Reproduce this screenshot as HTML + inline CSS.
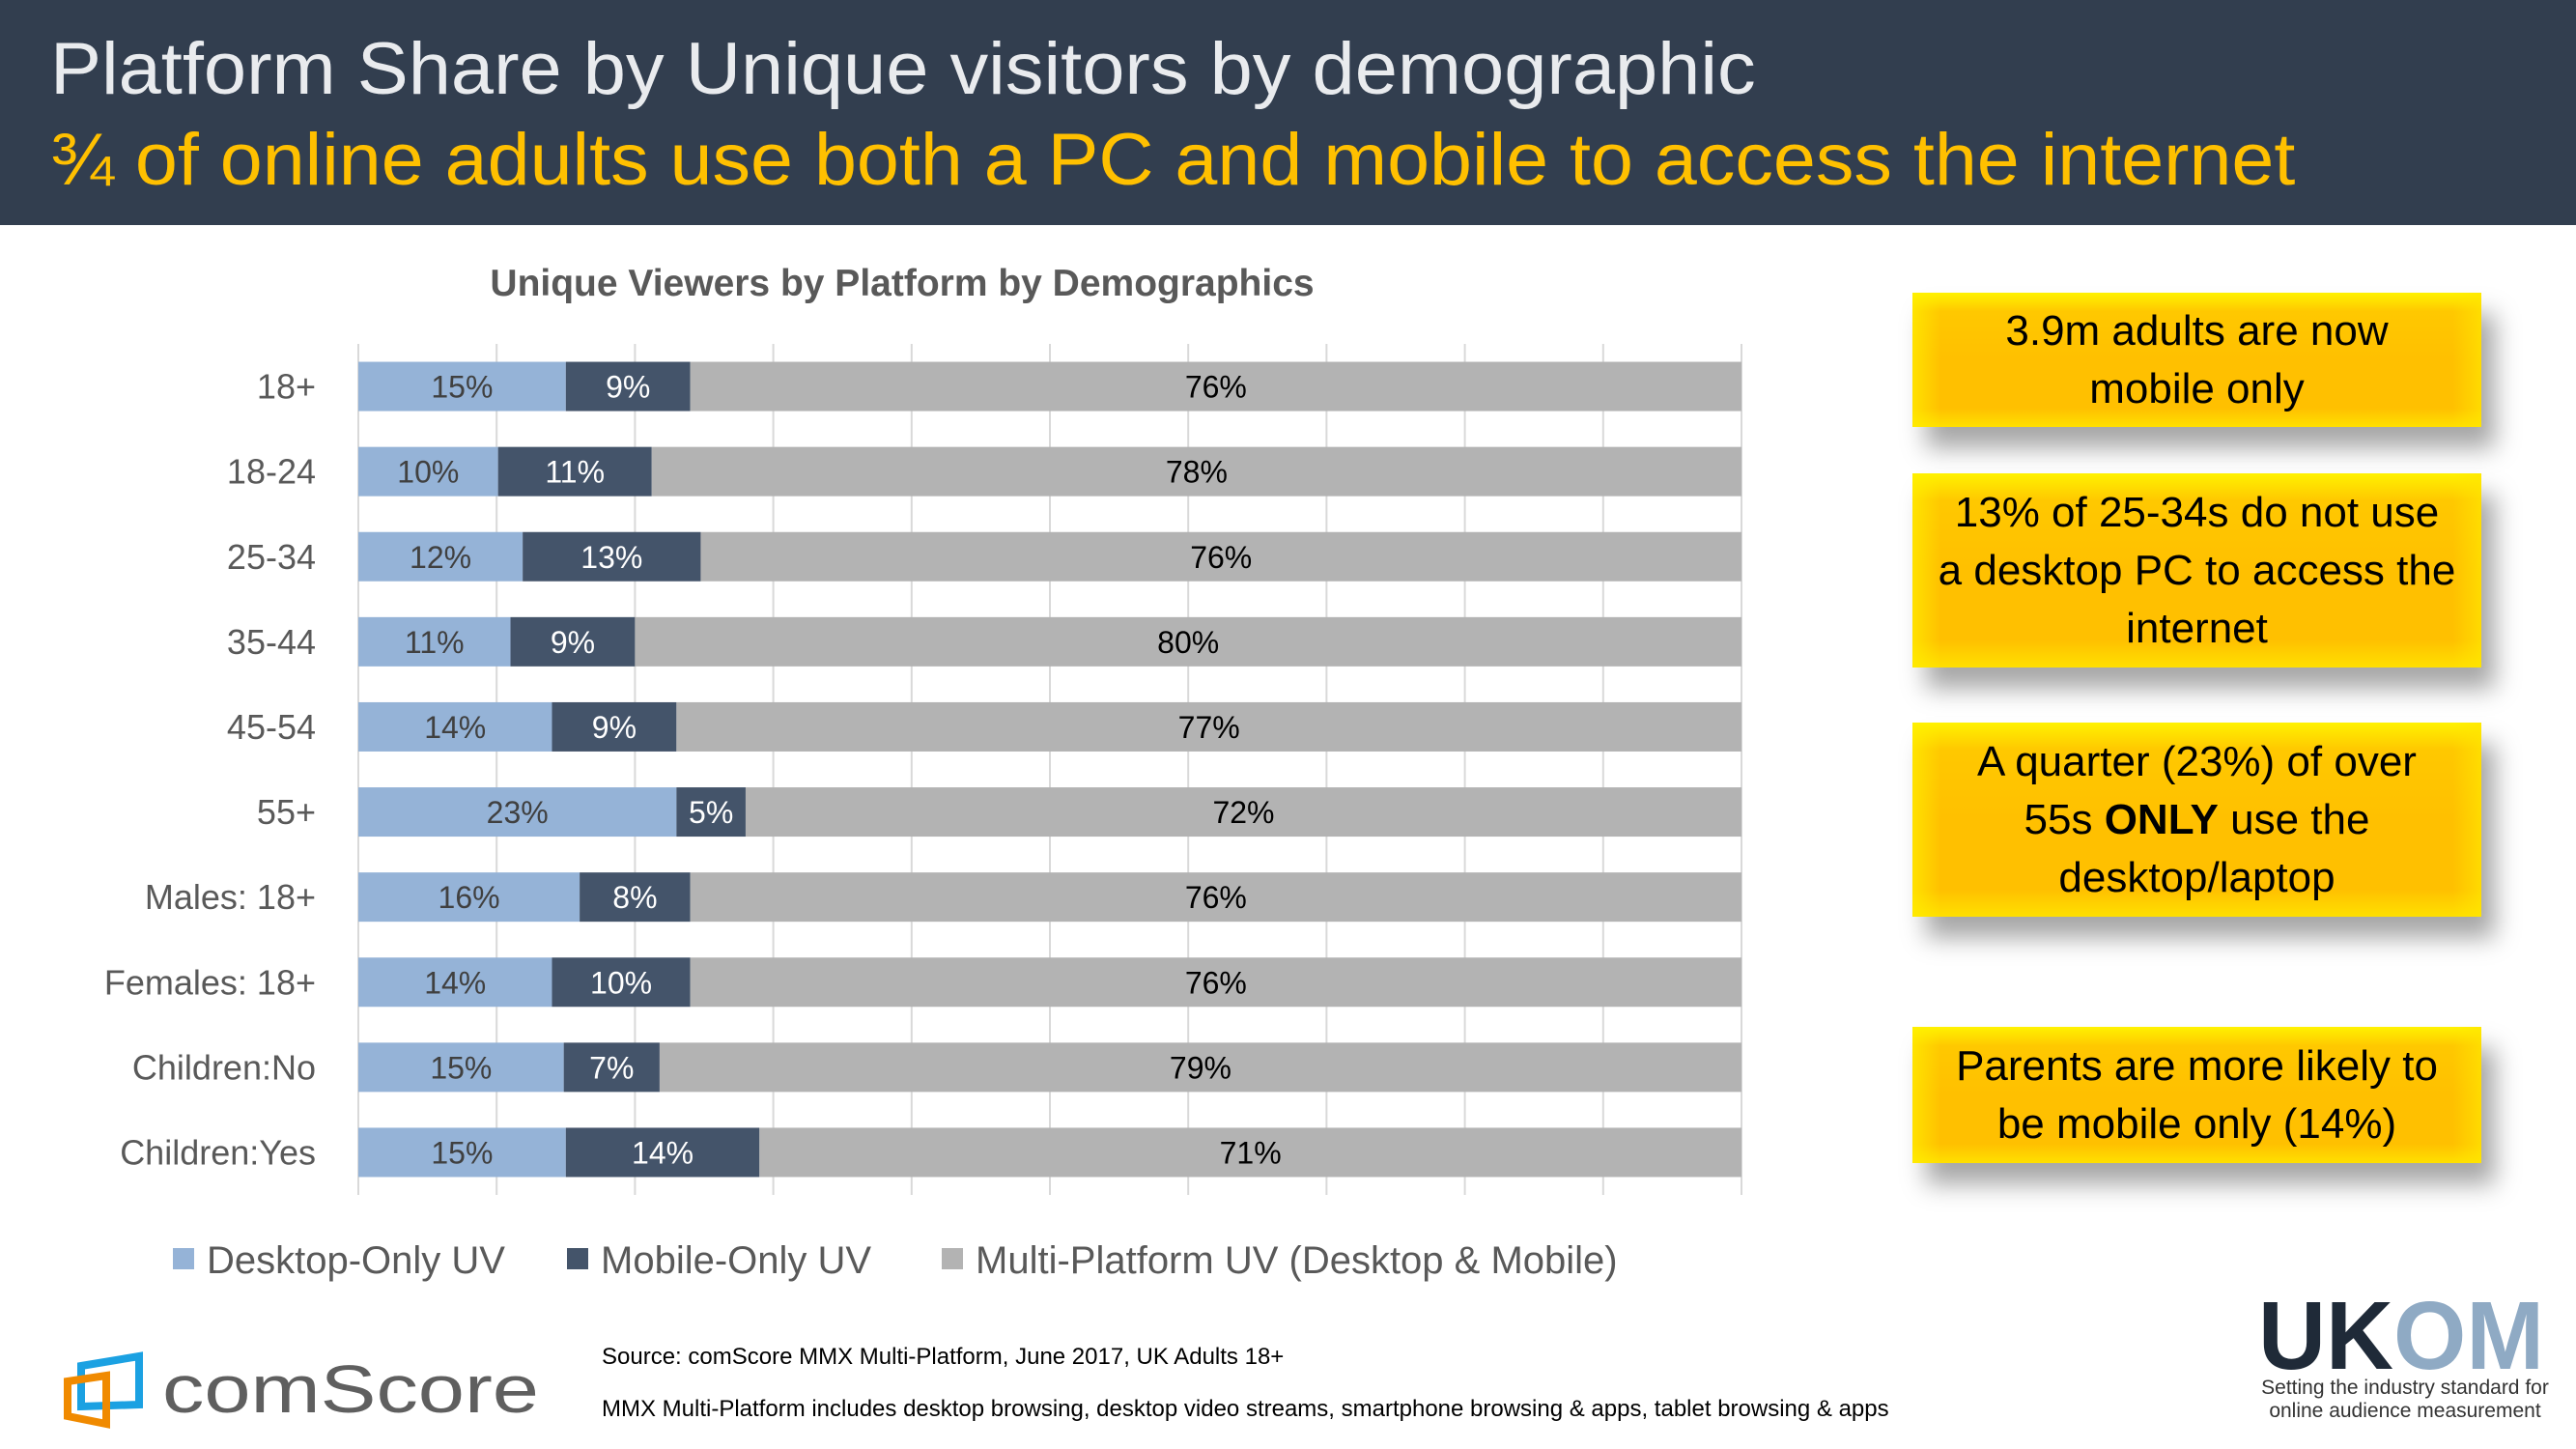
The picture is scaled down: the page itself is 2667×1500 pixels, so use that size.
<!DOCTYPE html>
<html><head><meta charset="utf-8">
<style>
html,body{margin:0;padding:0;width:2667px;height:1500px;overflow:hidden;background:#fff;font-family:"Liberation Sans",sans-serif;}
#header{position:absolute;left:0;top:0;width:2667px;height:233px;background:#323E4F;}
#title{position:absolute;left:52px;top:28px;font-size:76px;color:#E9EBEE;white-space:nowrap;transform:scaleX(1.045);transform-origin:left top;}
#subtitle{position:absolute;left:52px;top:122px;font-size:76px;color:#FFC000;white-space:nowrap;transform:scaleX(1.04);transform-origin:left top;}
.box{position:absolute;left:1980px;width:589px;display:flex;align-items:center;justify-content:center;text-align:center;font-size:44px;line-height:60px;color:#000;
 background:linear-gradient(180deg,#FFF200 0%,#FFC800 14%,#FFC000 50%,#FFC000 86%,#FFE000 100%);
 box-shadow:14px 22px 24px rgba(0,0,0,0.35);}
.box::before{content:"";position:absolute;inset:0;background:linear-gradient(90deg,rgba(255,240,0,0.7) 0%,rgba(255,192,0,0) 5%,rgba(255,192,0,0) 95%,rgba(255,230,0,0.7) 100%);}
.box span{position:relative;}
#src1,#src2{position:absolute;left:623px;font-size:24px;color:#000;white-space:nowrap;}
</style></head>
<body>
<div id="header">
  <div id="title">Platform Share by Unique visitors by demographic</div>
  <div id="subtitle">¾ of online adults use both a PC and mobile to access the internet</div>
</div>

<svg id="chart" width="2667" height="1500" style="position:absolute;left:0;top:0" xmlns="http://www.w3.org/2000/svg"></svg>

<div class="box" style="top:303px;height:139px"><span>3.9m adults are now<br>mobile only</span></div>
<div class="box" style="top:490px;height:201px"><span>13% of 25-34s do not use<br>a desktop PC to access the<br>internet</span></div>
<div class="box" style="top:748px;height:201px"><span>A quarter (23%) of over<br>55s <b>ONLY</b> use the<br>desktop/laptop</span></div>
<div class="box" style="top:1063px;height:141px"><span>Parents are more likely to<br>be mobile only (14%)</span></div>

<div id="src1" style="top:1391px">Source: comScore MMX Multi-Platform, June 2017, UK Adults 18+</div>
<div id="src2" style="top:1445px">MMX Multi-Platform includes desktop browsing, desktop video streams, smartphone browsing &amp; apps, tablet browsing &amp; apps</div>

<svg style="position:absolute;left:60px;top:1390px" width="520" height="90" xmlns="http://www.w3.org/2000/svg">
  <path d="M24 24 L84 14 L84 64 L24 66 Z" fill="none" stroke="#1BA1E2" stroke-width="8"/>
  <path d="M10 40 L50 34 L50 84 L10 76 Z" fill="none" stroke="#F08A00" stroke-width="8"/>
  <text x="108" y="72" font-family="Liberation Sans, sans-serif" font-size="70" fill="#5F5F5F" textLength="390" lengthAdjust="spacingAndGlyphs">comScore</text>
</svg>
<svg style="position:absolute;left:2330px;top:1335px" width="320" height="150" xmlns="http://www.w3.org/2000/svg">
  <text x="8" y="82" font-family="Liberation Sans, sans-serif" font-weight="bold" font-size="100" fill="#1F2A38" textLength="140" lengthAdjust="spacingAndGlyphs">UK</text>
  <text x="148" y="82" font-family="Liberation Sans, sans-serif" font-weight="bold" font-size="100" fill="#8FAAC4" textLength="156" lengthAdjust="spacingAndGlyphs">OM</text>
  <text x="160" y="108" font-family="Liberation Sans, sans-serif" font-size="21" fill="#333" text-anchor="middle">Setting the industry standard for</text>
  <text x="160" y="132" font-family="Liberation Sans, sans-serif" font-size="21" fill="#333" text-anchor="middle">online audience measurement</text>
</svg>

<script>
const categories = ["18+","18-24","25-34","35-44","45-54","55+","Males: 18+","Females: 18+","Children:No","Children:Yes"];
const desktopOnly = [15,10,12,11,14,23,16,14,15,15];
const mobileOnly = [9,11,13,9,9,5,8,10,7,14];
const multiPlatform = [76,78,76,80,77,72,76,76,79,71];
const seriesNames = ["Desktop-Only UV","Mobile-Only UV","Multi-Platform UV (Desktop & Mobile)"];
const gridTicks = [0,10,20,30,40,50,60,70,80,90,100];

const NS = "http://www.w3.org/2000/svg";
const svg = document.getElementById('chart');
const X0 = 371, X1 = 1803, Y0 = 356, Y1 = 1237;
const xScale = v => X0 + (v / 100) * (X1 - X0);
const band = (Y1 - Y0) / categories.length;
const yScale = i => Y0 + i * band + (band - 51) / 2;
const colors = ["#95B3D7","#44546A","#B3B3B3"];
const labelColors = ["#404040","#FFFFFF","#000000"];

function mk(tag, attrs){ const e = document.createElementNS(NS, tag); for (const k in attrs) e.setAttribute(k, attrs[k]); svg.appendChild(e); return e; }

const t = mk('text',{x:934,y:306,'text-anchor':'middle','font-size':39,'font-weight':'bold',fill:'#595959','font-family':'Liberation Sans, sans-serif'});
t.textContent = "Unique Viewers by Platform by Demographics";



gridTicks.forEach(v => {
  const g = mk('line',{x1:xScale(v),x2:xScale(v),y1:Y0,y2:Y1,stroke:'#D9D9D9','stroke-width':2});
  
  
});

const series = [desktopOnly, mobileOnly, multiPlatform];
categories.forEach((c, i) => {
  const y = yScale(i);
  const lab = mk('text',{x:327,y:y+38,'text-anchor':'end','font-size':36,fill:'#595959','font-family':'Liberation Sans, sans-serif'});
  lab.textContent = c;
  
  
  const total = series.reduce((a, s) => a + s[i], 0);
  let acc = 0;
  series.forEach((s, k) => {
    const v = s[i];
    const a = acc / total * 100, b = (acc + v) / total * 100;
    const r = mk('rect',{x:xScale(a),y:y,width:xScale(b)-xScale(a),height:51,fill:colors[k]});
    
    
    const vt = mk('text',{x:(xScale(a)+xScale(b))/2,y:y+37,'text-anchor':'middle','font-size':32,fill:labelColors[k],'font-family':'Liberation Sans, sans-serif'});
    vt.textContent = v + "%";
    
    
    acc += v;
  });
});

const legX = [179, 587, 975];
seriesNames.forEach((n, k) => {
  const sq = mk('rect',{x:legX[k],y:1292,width:22,height:22,fill:colors[k]});
  
  
  const lt = mk('text',{x:legX[k]+35,y:1318,'font-size':40,fill:'#595959','font-family':'Liberation Sans, sans-serif'});
  lt.textContent = n;
  
  
});
</script>
</body></html>
